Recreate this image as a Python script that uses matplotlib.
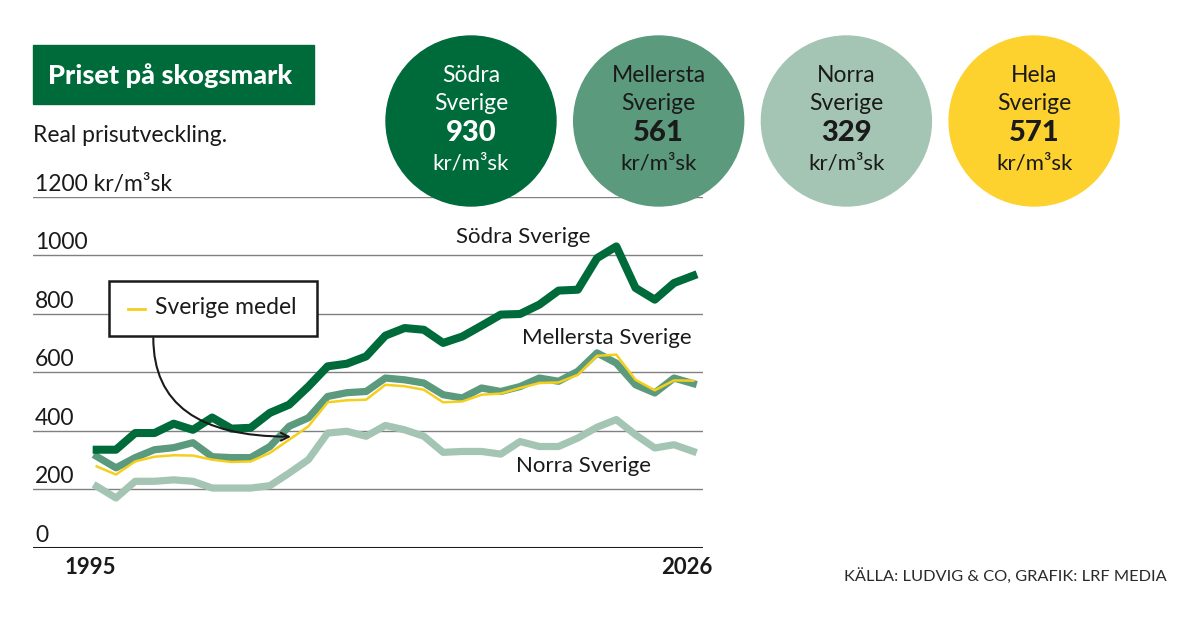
import matplotlib.pyplot as plt
from matplotlib.patches import Circle, Rectangle

plt.rcParams['font.family'] = ['Lato', 'DejaVu Sans']

# Real price per m3sk, 1995-2026
years = list(range(1995, 2027))
sodra = [335, 335, 392, 392, 424, 403, 445, 407, 410, 461, 489, 551, 620, 629, 654,
         725, 751, 745, 700, 722, 759, 797, 799, 831, 879, 882, 990, 1030, 888, 848, 905, 930]
mellersta = [312, 273, 308, 335, 342, 359, 311, 308, 308, 346, 415, 444, 517, 530, 534,
             580, 574, 563, 523, 512, 546, 534, 551, 580, 569, 603, 666, 631, 557, 529, 580, 561]
norra = [210, 170, 227, 227, 232, 227, 204, 204, 204, 212, 255, 301, 392, 398, 381,
         418, 403, 381, 326, 329, 329, 320, 363, 346, 346, 375, 412, 438, 386, 341, 352, 329]
medel = [278, 250, 295, 311, 316, 315, 301, 293, 295, 324, 369, 415, 497, 504, 506,
         557, 552, 540, 497, 500, 523, 527, 546, 563, 565, 591, 656, 660, 574, 538, 572, 571]

yticks = [0, 200, 400, 600, 800, 1000, 1200]
ytick_labels = ['0', '200', '400', '600', '800', '1000', '1200 kr/m³sk']

circle_names = [('Södra', 'Sverige'), ('Mellersta', 'Sverige'), ('Norra', 'Sverige'), ('Hela', 'Sverige')]
circle_values = [sodra[-1], mellersta[-1], norra[-1], medel[-1]]

DARK = '#006b3a'
MID = '#5b9a7d'
LIGHT = '#a4c5b4'
YELLOW = '#fdd22f'
TEXT = '#1a1a1a'

W, H = 1200, 619
fig = plt.figure(figsize=(12, 6.19), dpi=100)

# chart axes, placed in pixels
ax = fig.add_axes([33 / W, (H - 547.7) / H, (702.7 - 33) / W, (547.7 - 196.7) / H])
ax.set_xlim(1991.69, 2026.49)
ax.set_ylim(0, 1200)
ax.axis('off')

for v, lab in zip(yticks, ytick_labels):
    if v == 0:
        ax.axhline(v, color='#1a1a1a', lw=2.2, zorder=1)
    else:
        ax.axhline(v, color='#808080', lw=1.0, zorder=1)
    ax.annotate(lab, xy=(0, v), xycoords=('axes fraction', 'data'), xytext=(2, 6),
                textcoords='offset pixels', ha='left', va='baseline', fontsize=16.5, color=TEXT)

ax.plot(years, norra, color=LIGHT, lw=5.2, zorder=2)
ax.plot(years, mellersta, color=MID, lw=5.2, zorder=3)
ax.plot(years, medel, color='#f4cf1e', lw=1.8, zorder=4)
ax.plot(years, sodra, color=DARK, lw=5.8, zorder=5)

for yr in (years[0], years[-1]):
    ax.annotate(str(yr), xy=(yr, 0), xytext=(-6, -20), textcoords='offset pixels',
                ha='center', va='center', fontsize=16, fontweight='bold', color=TEXT)

ax.text(2017.15, 1062, 'Södra Sverige', fontsize=16, color=TEXT, ha='center', va='center')
ax.text(2021.5, 717, 'Mellersta Sverige', fontsize=16, color=TEXT, ha='center', va='center')
ax.text(2020.3, 279, 'Norra Sverige', fontsize=16, color=TEXT, ha='center', va='center')

# overlay in pixel coordinates for title, circles and annotations
ov = fig.add_axes([0, 0, 1, 1])
ov.set_xlim(0, W)
ov.set_ylim(H, 0)
ov.axis('off')

ov.add_patch(Rectangle((33.3, 45), 281, 59, color=DARK))
ov.text(48, 76, 'Priset på skogsmark', color='white', fontsize=19.5, fontweight='black',
        ha='left', va='center')
ov.text(33, 135, 'Real prisutveckling.', color=TEXT, fontsize=16.5, ha='left', va='center')

fills = [DARK, MID, LIGHT, YELLOW]
txt_cols = ['white', TEXT, TEXT, TEXT]
for i, ((n1, n2), val) in enumerate(zip(circle_names, circle_values)):
    cx, cy = 471 + i * 187.7, 121
    ov.add_patch(Circle((cx, cy), 85, color=fills[i]))
    ov.text(cx, cy - 46, n1, ha='center', va='center', fontsize=16.5, color=txt_cols[i])
    ov.text(cx, cy - 18, n2, ha='center', va='center', fontsize=16.5, color=txt_cols[i])
    ov.text(cx, cy + 12, str(val), ha='center', va='center', fontsize=21, fontweight='black',
            color=txt_cols[i])
    ov.text(cx, cy + 42, 'kr/m³sk', ha='center', va='center', fontsize=16, color=txt_cols[i])

# legend box with arrow
ov.add_patch(Rectangle((109.3, 281), 208, 54.7, facecolor='white', edgecolor='#1a1a1a', lw=1.8))
ov.plot([128, 145], [308.5, 308.5], color='#f4cf1e', lw=2)
ov.text(155, 308, 'Sverige medel', fontsize=16.5, color=TEXT, ha='left', va='center')
ov.annotate('', xy=(291, 436.7), xytext=(153.3, 338),
            arrowprops=dict(arrowstyle='->', color='#1a1a1a', lw=1.5, mutation_scale=14,
                            shrinkA=0, shrinkB=0,
                            connectionstyle='angle3,angleA=90,angleB=0'))

ov.text(1166.7, 576, 'KÄLLA: LUDVIG & CO, GRAFIK: LRF MEDIA', fontsize=11.8, color='#2a2a2a',
        ha='right', va='center')

fig.savefig('out.png', dpi=100)
